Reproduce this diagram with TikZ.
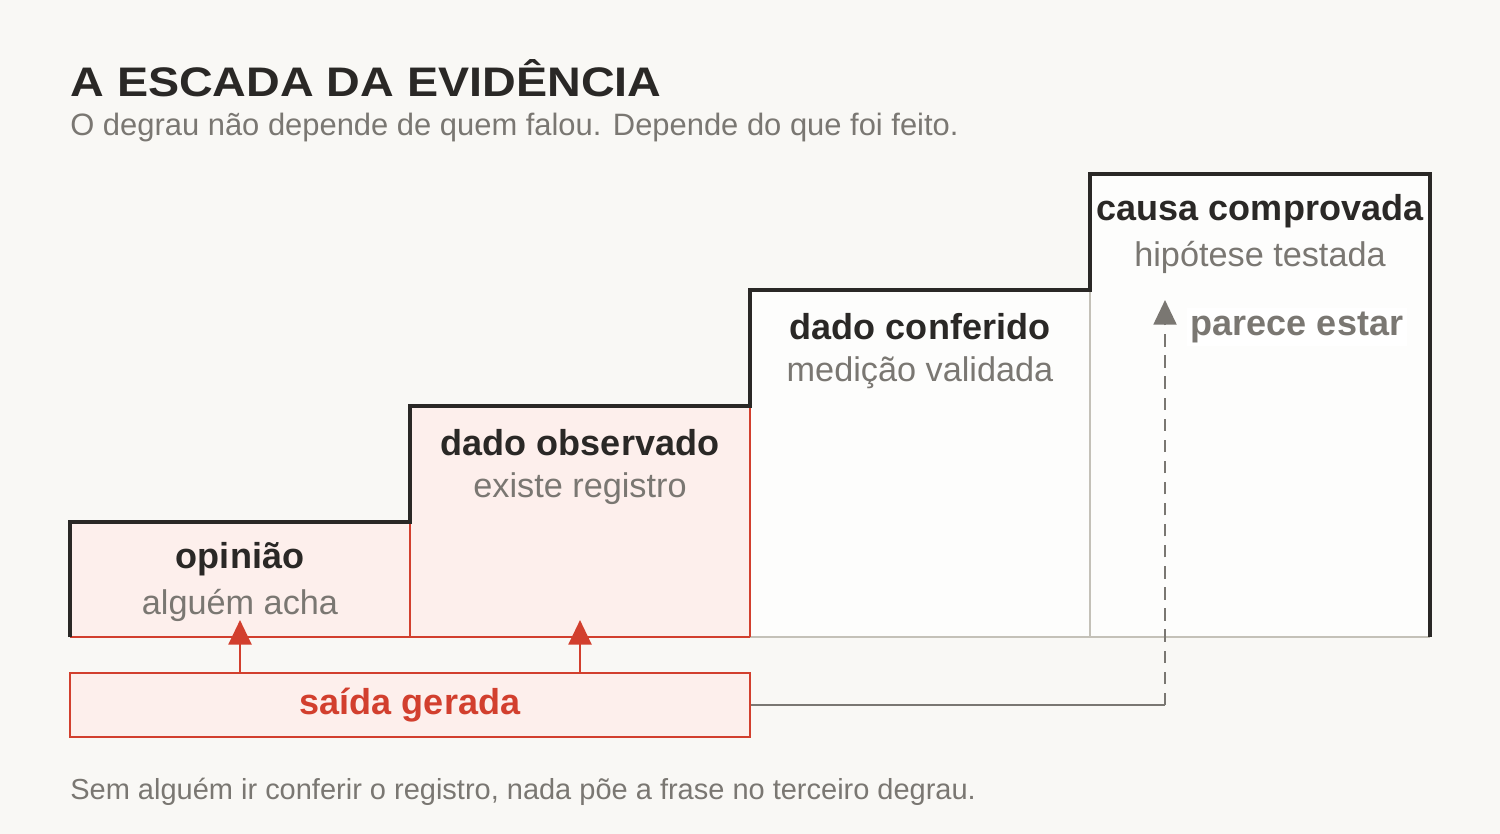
\documentclass[tikz,border=0pt]{standalone}
\usepackage{fontspec}
\setmainfont{Liberation Sans}
\usetikzlibrary{arrows.meta}
\definecolor{bg}{HTML}{F9F8F5}
\definecolor{ink}{HTML}{2A2826}
\definecolor{redc}{HTML}{D23F2E}
\definecolor{pinkc}{HTML}{FDEFEC}
\definecolor{grayc}{HTML}{7A7772}
\definecolor{linec}{HTML}{C4C1B8}
\begin{document}
\begin{tikzpicture}[x=0.02cm,y=-0.02cm,
  stepname/.style={font=\fontsize{20.5}{22}\selectfont\bfseries,text=ink},
  stepsub/.style={font=\fontsize{19.5}{22}\selectfont,text=grayc},
  up/.style={-{Triangle[length=14pt,width=13pt]},line width=1.6pt}]
%Background
\fill[bg] (0,0) rectangle (1500,834);
\useasboundingbox (0,0) rectangle (1500,834);

%Title
\node[anchor=base west,font=\fontsize{23.5}{26}\selectfont\bfseries,text=ink,inner sep=0,xscale=1.13] (title) at (70,97) {A ESCADA DA EVIDÊNCIA};
\node[anchor=base west,font=\fontsize{17.6}{20}\selectfont,text=grayc,inner sep=0] (subtitle) at (70,136) {O degrau não depende de quem falou. Depende do que foi feito.};

%Steps
\fill[pinkc] (70,522) rectangle (410,637);
\fill[pinkc] (410,406) rectangle (750,637);
\fill[white!70!bg] (750,290) rectangle (1090,637);
\fill[white!70!bg] (1090,174) rectangle (1430,637);
\draw[linec,line width=1.2pt] (750,637) -- (1430,637);
\draw[linec,line width=1.2pt] (1090,290) -- (1090,637);
\draw[redc,line width=1.4pt] (70,637) -- (750,637);
\draw[redc,line width=1.4pt] (410,522) -- (410,637);
\draw[redc,line width=1.4pt] (750,406) -- (750,637);
\draw[ink,line width=2.3pt] (70,637) -- (70,522) -- (410,522) -- (410,406) -- (750,406)
  -- (750,290) -- (1090,290) -- (1090,174) -- (1430,174) -- (1430,637);

%Step labels
\node[stepname] (opiniao) at (240,559) {opinião};
\node[stepsub] (opiniaoS) at (240,605) {alguém acha};
\node[stepname] (observado) at (580,443) {dado observado};
\node[stepsub] (observadoS) at (580,489) {existe registro};
\node[stepname] (conferido) at (920,327) {dado conferido};
\node[stepsub] (conferidoS) at (920,373) {medição validada};
\node[stepname] (causa) at (1260,211) {causa comprovada};
\node[stepsub] (causaS) at (1260,257) {hipótese testada};

%Output box
\node[draw=redc,fill=pinkc,line width=1.4pt,minimum width=680*0.02cm,minimum height=64*0.02cm,
  font=\fontsize{20.5}{22}\selectfont\bfseries,text=redc] (saida) at (410,705) {saída gerada};
\coordinate (a1) at (240,620);
\coordinate (a2) at (580,620);
\coordinate (a3) at (1165,300);
\draw[up,redc] (saida.north -| a1) -- (a1);
\draw[up,redc] (saida.north -| a2) -- (a2);
\draw[grayc,line width=1.4pt] (saida.east) -- (1165,705);
\draw[up,grayc,line width=1.4pt,dash pattern=on 7pt off 5pt] (1165,705) -- (a3);
\node[fill=white,inner sep=2pt,font=\fontsize{20.5}{22}\selectfont\bfseries,text=grayc] (parece) at (1297,327) {parece estar};

%Footnote
\node[anchor=base west,font=\fontsize{16.5}{18}\selectfont,text=grayc,inner sep=0] (nota) at (70,799) {Sem alguém ir conferir o registro, nada põe a frase no terceiro degrau.};
\end{tikzpicture}
\end{document}
